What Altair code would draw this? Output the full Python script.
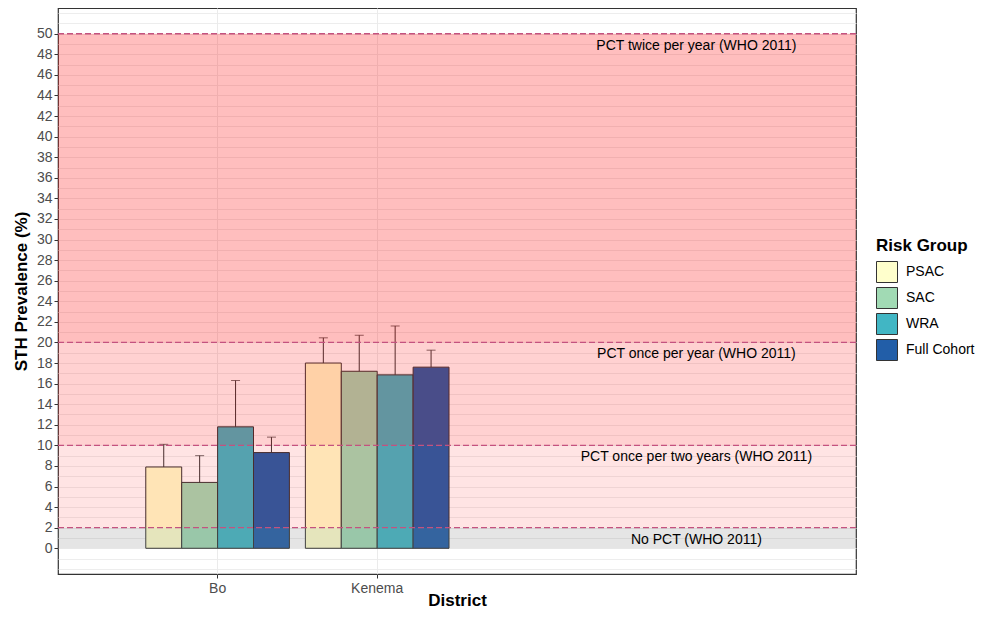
import altair as alt
import pandas as pd

districts = ["Bo", "Kenema"]
groups = ["PSAC", "SAC", "WRA", "Full Cohort"]
group_colors = ["#FFFFCC", "#A1DAB4", "#41B6C4", "#225EA8"]
bo_prev = [7.9, 6.4, 11.8, 9.3]
bo_upper = [10.1, 9.0, 16.3, 10.8]
kenema_prev = [18.0, 17.2, 16.85, 17.6]
kenema_upper = [20.45, 20.7, 21.6, 19.25]

thresholds = [50, 20, 10, 2]
threshold_labels = [
    "PCT twice per year (WHO 2011)",
    "PCT once per year (WHO 2011)",
    "PCT once per two years (WHO 2011)",
    "No PCT (WHO 2011)",
]
band_lo = [20, 10, 2, 0]
band_hi = [50, 20, 10, 2]
band_fill = ["#ff0000", "#ff0000", "#ff0000", "#7f7f7f"]
band_opacity = [0.255, 0.18, 0.105, 0.2]

y_ticks = list(range(0, 51, 2))
y_grid = list(range(-2, 53))
x_domain = districts + ["_pad", "_labels"]

FONT = "Liberation Sans"

rows = []
for d, vals, ups in [("Bo", bo_prev, bo_upper), ("Kenema", kenema_prev, kenema_upper)]:
    for g, v, u in zip(groups, vals, ups):
        rows.append({"District": d, "Group": g, "value": v, "upper": u})
df = pd.DataFrame(rows)

bands = pd.DataFrame({"lo": band_lo, "hi": band_hi, "fill": band_fill, "op": band_opacity})
labels = pd.DataFrame({"y": thresholds, "label": threshold_labels, "District": ["_labels"] * 4})

x_scale = alt.Scale(domain=x_domain, paddingInner=0.1, paddingOuter=0.55)
y_scale = alt.Scale(domain=[-2.5, 52.5], nice=False, zero=False)
off_scale = alt.Scale(domain=groups, paddingInner=0, paddingOuter=0)

x_axis = alt.Axis(
    values=districts, grid=True, gridColor="#ebebeb", bandPosition=0.5,
    domain=False, tickColor="#333333", tickSize=4, labelColor="#4d4d4d",
    labelFontSize=14, labelPadding=3, titleFontSize=17, titleFontWeight="bold",
    titleColor="#000000", titleY=31, titleBaseline="alphabetic", labelAngle=0,
)

y_enc = alt.Y(
    "value:Q",
    scale=y_scale,
    title="STH Prevalence (%)",
    axis=alt.Axis(
        values=y_ticks, grid=False, domain=False, tickColor="#333333", tickSize=4,
        labelColor="#4d4d4d", labelFontSize=14, labelPadding=2, titleFontSize=17,
        titleFontWeight="bold", titleColor="#000000", titlePadding=6,
    ),
)

bars = alt.Chart(df).mark_bar(stroke="#333333", strokeWidth=1, opacity=1).encode(
    x=alt.X("District:N", scale=x_scale, title="District", axis=x_axis),
    xOffset=alt.XOffset("Group:N", scale=off_scale, sort=groups),
    y=y_enc,
    color=alt.Color(
        "Group:N",
        scale=alt.Scale(domain=groups, range=group_colors),
        sort=groups,
        legend=alt.Legend(
            title="Risk Group", orient="none", legendX=818, legendY=230,
            titleFontSize=17, titleFontWeight="bold", titleColor="#000000",
            labelFontSize=14, labelColor="#000000", symbolType="square",
            symbolSize=441, symbolStrokeColor="#333333", symbolStrokeWidth=1,
            symbolOpacity=1, rowPadding=0, labelOffset=8, titlePadding=6, padding=0,
        ),
    ),
)

err = alt.Chart(df).mark_rule(color="#333333", strokeWidth=1).encode(
    x=alt.X("District:N", scale=x_scale, title="District", axis=x_axis),
    xOffset=alt.XOffset("Group:N", scale=off_scale, sort=groups),
    y=alt.Y("value:Q", scale=y_scale, axis=None),
    y2="upper:Q",
)

caps = alt.Chart(df).mark_tick(color="#333333", thickness=1, size=9, orient="horizontal").encode(
    x=alt.X("District:N", scale=x_scale, title="District", axis=x_axis),
    xOffset=alt.XOffset("Group:N", scale=off_scale, sort=groups),
    y=alt.Y("upper:Q", scale=y_scale, axis=None),
)

rects = alt.Chart(bands).mark_rect().encode(
    y=alt.Y(
        "lo:Q", scale=y_scale,
        axis=alt.Axis(
            orient="right", values=y_grid, grid=True, gridColor="#ebebeb", gridWidth=0.9,
            labels=False, ticks=False, domain=False, title=None,
        ),
    ),
    y2="hi:Q",
    fill=alt.Fill("fill:N", scale=None),
    opacity=alt.Opacity("op:Q", scale=None),
)

rules = alt.Chart(labels).mark_rule(color="#c4527f", strokeDash=[6, 3], strokeWidth=1.3).encode(
    y=alt.Y("y:Q", scale=y_scale, axis=None),
)

texts = alt.Chart(labels).mark_text(
    baseline="top", dy=5, fontSize=14, font=FONT, color="#000000", align="center"
).encode(
    x=alt.X("District:N", scale=x_scale, title="District", axis=x_axis),
    y=alt.Y("y:Q", scale=y_scale, axis=None),
    text="label:N",
)

chart = (
    alt.layer(bars, err, caps, rects, rules, texts)
    .resolve_axis(y="independent")
    .properties(
        width=798, height=566,
        autosize=alt.AutoSizeParams(type="none"),
        padding={"left": 50, "top": 0, "right": 124, "bottom": 35},
    )
    .configure(font=FONT)
    .configure_view(stroke="#333333", strokeWidth=1.2)
    .configure_axis(labelFont=FONT, titleFont=FONT)
    .configure_legend(labelFont=FONT, titleFont=FONT)
)

chart.save("out.html", embed_options={"renderer": "svg", "actions": False})
